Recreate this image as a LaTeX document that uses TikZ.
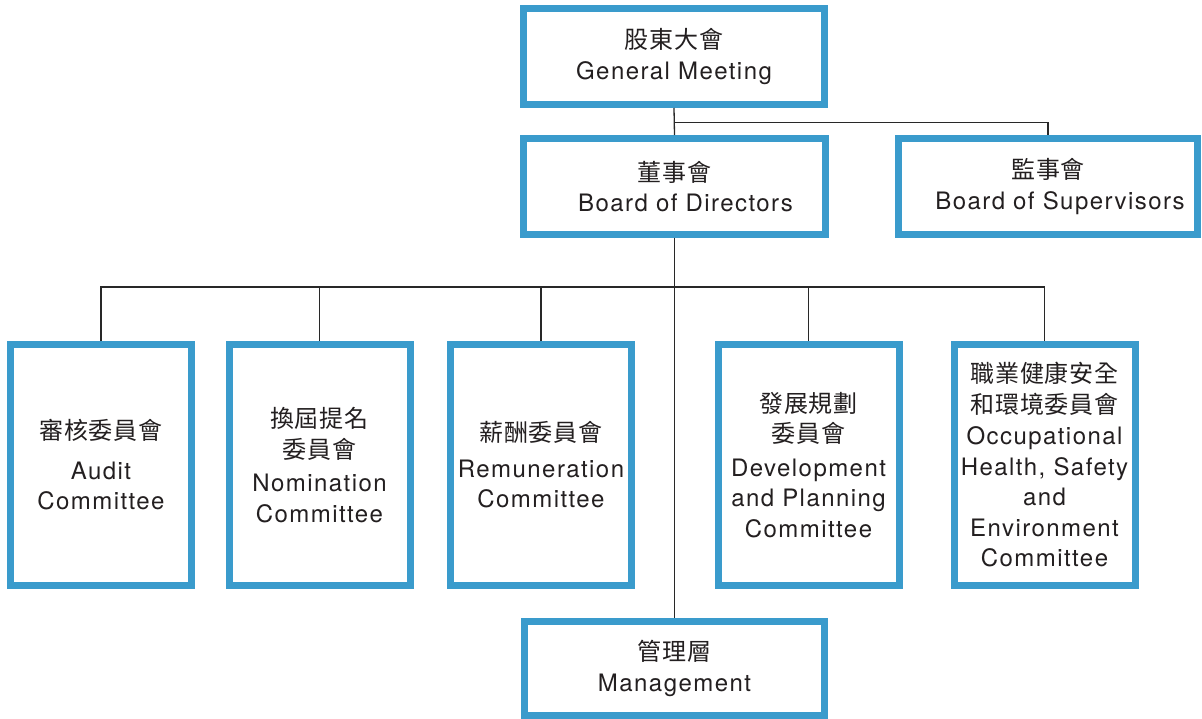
\documentclass[tikz,border=0pt]{standalone}
\usepackage{fontspec}
\setmainfont{TeX Gyre Heros}[LetterSpace=6]
\newfontfamily\cjk{Noto Sans CJK TC}[LetterSpace=4]
\definecolor{boxblue}{RGB}{58,155,204}
\definecolor{txt}{RGB}{35,31,32}
\definecolor{ln}{RGB}{40,40,40}
\tikzset{
  orgbox/.style={draw=boxblue, line width=7pt, fill=white, text=txt, align=center,
    inner sep=1pt, font=\fontsize{24}{30.5}\selectfont},
  topbox/.style={orgbox, minimum width=301pt, minimum height=96pt},
  combox/.style={orgbox, minimum width=181pt, minimum height=241pt},
  link/.style={draw=ln, line width=1.3pt}
}
\begin{document}
\begin{tikzpicture}[x=1pt,y=-1pt]
\useasboundingbox (0,0) rectangle (1202,719);
\fill[white] (0,0) rectangle (1202,719);

\node[topbox] (gm) at (674,56.5) {{\cjk 股東大會}\\General Meeting};
\node[topbox, minimum width=302pt] (bod) at (674.5,186.5) {{\cjk 董事會}\\\hspace*{22pt}Board of Directors};
\node[topbox, minimum width=299pt] (sup) at (1048,186.5) {{\cjk 監事會}\\\hspace*{24pt}Board of Supervisors};
\node[topbox, minimum width=300pt, minimum height=94pt] (mgmt) at (674.5,668.5) {{\cjk 管理層}\\Management};

\node[combox] (audit) at (101,465) {{\cjk 審核委員會}\\[9pt]Audit\\Committee};
\node[combox] (nom) at (319.5,465) {{\cjk 換屆提名}\\{\cjk 委員會}\\[3pt]Nomination\\Committee};
\node[combox] (rem) at (541,465) {{\cjk 薪酬委員會}\\[5pt]Remuneration\\Committee};
\node[combox] (dev) at (808.5,465) {{\cjk 發展規劃}\\{\cjk 委員會}\\[3pt]Development\\and Planning\\Committee};
\node[combox] (ohse) at (1044.5,465) {{\cjk 職業健康安全}\\{\cjk 和環境委員會}\\[1pt]Occupational\\Health, Safety\\and\\Environment\\Committee};

\coordinate (j1) at (674.5,122.7);
\coordinate (bus) at (674.5,287);

\draw[link] (gm.south) -- (bod.north);
\draw[link] (j1) -| (sup.north);
\draw[link] (bod.south) -- (mgmt.north);
\draw[link] (audit.north) |- (bus) -| (ohse.north);
\draw[link] (nom.north) -- (nom.north |- bus);
\draw[link] (rem.north) -- (rem.north |- bus);
\draw[link] (dev.north) -- (dev.north |- bus);
\end{tikzpicture}
\end{document}
